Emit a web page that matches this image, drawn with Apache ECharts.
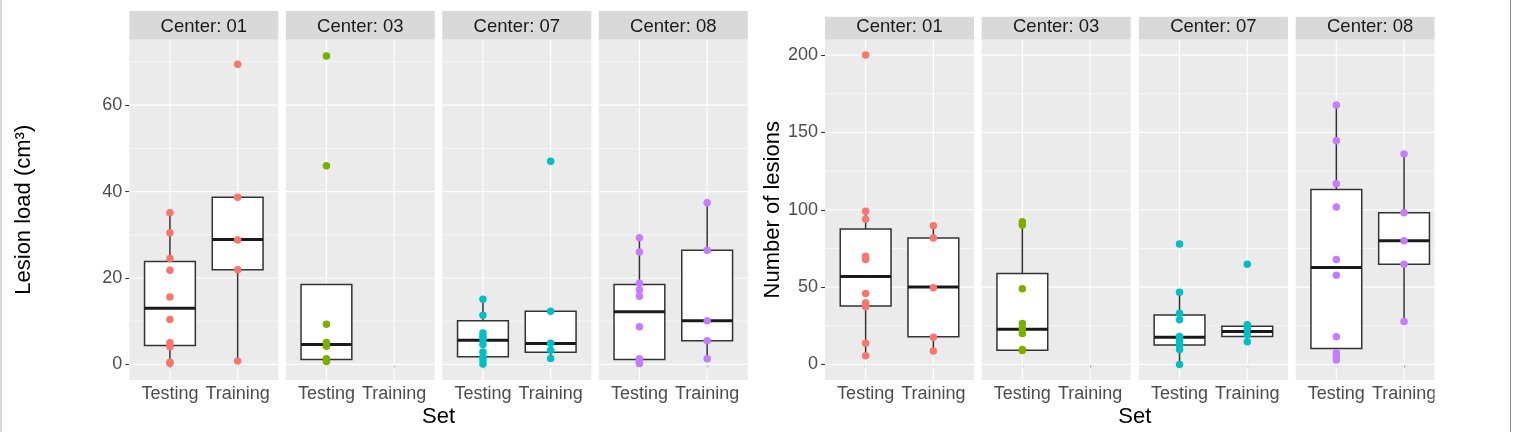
<!DOCTYPE html>
<html><head><meta charset="utf-8">
<script src="https://cdn.jsdelivr.net/npm/echarts@6/dist/echarts.min.js"></script>
<style>html,body{margin:0;padding:0;background:#fff}#c{width:1520px;height:432px}</style>
</head><body><div id="c"></div>
<script>
// ---------- data ----------
const centers = ['01', '03', '07', '08'];
const sets = ['Testing', 'Training'];
const loadTicks = [0, 20, 40, 60];
const loadMinor = [10, 30, 50, 70];
const countTicks = [0, 50, 100, 150, 200];
const countMinor = [25, 75, 125, 175];

// Lesion load (cm3) points: [Testing, Training]
const load01 = [[35.1, 30.5, 24.5, 21.8, 15.6, 10.4, 5.0, 4.1, 0.5, 0.3], [69.5, 38.7, 28.8, 21.9, 0.8]];
const load03 = [[71.4, 46.0, 9.3, 5.1, 4.2, 1.3, 1.0, 0.7], []];
const load07 = [[15.1, 11.4, 7.3, 6.5, 5.8, 4.6, 2.9, 1.8, 1.0, 0.1], [47.0, 12.3, 4.9, 3.3, 1.4]];
const load08 = [[29.3, 26.0, 18.8, 17.3, 15.8, 8.7, 1.3, 1.0, 0.5, 0.2], [37.4, 26.4, 10.1, 5.5, 1.3]];
// box stats: [lower whisker, Q1, median, Q3, upper whisker]
const loadBox01 = [[0.3, 4.4, 13.0, 23.8, 35.1], [0.8, 21.9, 28.9, 38.7, 38.7]];
const loadBox03 = [[0.7, 1.15, 4.6, 18.5, 18.5], null];
const loadBox07 = [[0.1, 1.8, 5.6, 10.1, 15.1], [1.4, 2.8, 4.85, 12.3, 12.3]];
const loadBox08 = [[0.2, 1.15, 12.2, 18.5, 29.3], [1.3, 5.5, 10.1, 26.4, 37.4]];

// Number of lesions points: [Testing, Training]
const count01 = [[200, 99.1, 93.9, 70.0, 67.9, 45.9, 39.8, 37.2, 13.6, 5.6], [89.6, 81.7, 49.5, 17.5, 8.6]];
const count03 = [[92.2, 90.1, 48.9, 26.5, 23.3, 20.0, 9.6, 9.0], []];
const count07 = [[77.8, 46.7, 33.0, 28.8, 18.0, 15.5, 12.5, 9.7, 0.0], [64.7, 25.6, 22.7, 19.2, 14.6]];
const count08 = [[167.7, 144.6, 116.8, 101.7, 67.9, 57.7, 17.8, 7.5, 4.9, 2.8], [136.0, 98.0, 79.9, 64.7, 27.8]];
const countBox01 = [[5.6, 37.7, 56.9, 87.5, 99.1], [8.6, 17.9, 50.0, 81.7, 89.6]];
const countBox03 = [[9.0, 9.2, 22.7, 58.8, 92.2], null];
const countBox07 = [[0.0, 12.6, 17.6, 32.0, 46.7], [14.6, 18.0, 21.2, 24.6, 25.6]];
const countBox08 = [[2.8, 10.3, 62.7, 113.1, 167.7], [27.8, 64.7, 80.0, 98.0, 136.0]];

// ---------- styling / layout ----------
const colors = ['#F8766D', '#7CAE00', '#00BFC4', '#C77CFF'];
const FONT = 'Liberation Sans, Arial, Helvetica, sans-serif';
const panelW = 149, panelTop = 39.5, panelH = 340.5;
const plots = [
  { xs: [129.3, 285.8, 442.3, 598.8], yMin: -3.6, yMax: 75.2, ticks: loadTicks, minor: loadMinor,
    points: [load01, load03, load07, load08], boxes: [loadBox01, loadBox03, loadBox07, loadBox08],
    title: 'Lesion load (cm³)', titleX: 24, stripTop: 11 },
  { xs: [825, 981.7, 1138.9, 1295.7], yMin: -10.1, yMax: 210.1, ticks: countTicks, minor: countMinor,
    points: [count01, count03, count07, count08], boxes: [countBox01, countBox03, countBox07, countBox08],
    title: 'Number of lesions', titleX: 772.5, stripTop: 16.7 }
];

const grids = [], xAxes = [], yAxes = [], series = [], graphics = [];
let gi = 0;
plots.forEach((pl, p) => {
  pl.xs.forEach((left, i) => {
    grids.push({ left: left, top: panelTop, width: panelW, height: panelH, show: true,
      backgroundColor: '#EBEBEB', borderWidth: 0, containLabel: false });
    xAxes.push({ gridIndex: gi, type: 'value', min: 0.4, max: 2.6,
      axisLine: { show: false }, splitLine: { show: false },
      axisTick: { show: true, customValues: [1, 2], length: 4, lineStyle: { color: '#333', width: 1.1 } },
      axisLabel: { customValues: [1, 2], formatter: v => sets[Math.round(v) - 1], color: '#4D4D4D',
        fontSize: 18, fontFamily: FONT, margin: 5 } });
    yAxes.push({ gridIndex: gi, type: 'value', min: pl.yMin, max: pl.yMax,
      axisLine: { show: false }, splitLine: { show: false },
      axisTick: { show: i === 0, customValues: pl.ticks, length: 4, lineStyle: { color: '#333', width: 1.1 } },
      axisLabel: { show: i === 0, customValues: pl.ticks, color: '#4D4D4D', fontSize: 18, fontFamily: FONT, margin: 7 } });

    // grid lines
    const gl = [];
    pl.ticks.forEach(v => gl.push([0, v]));
    pl.minor.forEach(v => gl.push([1, v]));
    [1, 2].forEach(v => gl.push([2, v]));
    series.push({ type: 'custom', xAxisIndex: gi, yAxisIndex: gi, z: 1, silent: true, clip: true,
      data: gl,
      renderItem: (params, api) => {
        const kind = api.value(0), v = api.value(1);
        let a, b;
        if (kind === 2) { a = api.coord([v, pl.yMin]); b = api.coord([v, pl.yMax]); }
        else { a = api.coord([0.4, v]); b = api.coord([2.6, v]); }
        return { type: 'line', shape: { x1: a[0], y1: a[1], x2: b[0], y2: b[1] },
          style: { stroke: '#FFFFFF', lineWidth: kind === 1 ? 0.6 : 1.2 } };
      } });

    // boxes
    const bd = [];
    pl.boxes[i].forEach((b, k) => { if (b) bd.push([k + 1].concat(b)); });
    series.push({ type: 'custom', xAxisIndex: gi, yAxisIndex: gi, z: 2, silent: true,
      data: bd,
      renderItem: (params, api) => {
        const x = api.value(0);
        const pLo = api.coord([x, api.value(1)]), pQ1 = api.coord([x, api.value(2)]);
        const pMed = api.coord([x, api.value(3)]), pQ3 = api.coord([x, api.value(4)]);
        const pHi = api.coord([x, api.value(5)]);
        const hw = api.size([0.75, 0])[0] / 2;
        const st = { stroke: '#333333', lineWidth: 1.5 };
        return { type: 'group', children: [
          { type: 'line', shape: { x1: pLo[0], y1: pLo[1], x2: pQ1[0], y2: pQ1[1] }, style: st },
          { type: 'line', shape: { x1: pQ3[0], y1: pQ3[1], x2: pHi[0], y2: pHi[1] }, style: st },
          { type: 'rect', shape: { x: pQ1[0] - hw, y: pQ3[1], width: 2 * hw, height: pQ1[1] - pQ3[1] },
            style: { fill: '#FFFFFF', stroke: '#333333', lineWidth: 1.5 } },
          { type: 'line', shape: { x1: pMed[0] - hw, y1: pMed[1], x2: pMed[0] + hw, y2: pMed[1] },
            style: { stroke: '#1A1A1A', lineWidth: 3 } }
        ] };
      } });

    // points
    const pd = [];
    pl.points[i].forEach((arr, k) => arr.forEach(v => pd.push([k + 1, v])));
    series.push({ type: 'scatter', xAxisIndex: gi, yAxisIndex: gi, z: 3, silent: true,
      data: pd, symbol: 'circle', symbolSize: 7.5, itemStyle: { color: colors[i], opacity: 1 } });

    // strip
    graphics.push({ type: 'rect', shape: { x: left, y: pl.stripTop, width: panelW, height: panelTop - pl.stripTop },
      style: { fill: '#D9D9D9' }, z: 10 });
    graphics.push({ type: 'text', x: left + panelW / 2, y: 26.8, z: 11,
      style: { text: 'Center: ' + centers[i], fill: '#1A1A1A', font: '18.5px ' + FONT,
        textAlign: 'center', textVerticalAlign: 'middle' } });
    gi++;
  });
  // axis titles
  const cx = (pl.xs[0] + pl.xs[3] + panelW) / 2;
  graphics.push({ type: 'text', x: cx, y: 416.5, z: 11,
    style: { text: 'Set', fill: '#000', font: '22px ' + FONT, textAlign: 'center', textVerticalAlign: 'middle' } });
  graphics.push({ type: 'text', x: pl.titleX, y: panelTop + panelH / 2, rotation: Math.PI / 2, z: 11,
    style: { text: pl.title, fill: '#000', font: '22px ' + FONT, textAlign: 'center', textVerticalAlign: 'middle' } });
});
// cropped right edge & frame
graphics.push({ type: 'rect', shape: { x: 1434.5, y: 0, width: 75, height: 432 }, style: { fill: '#FFFFFF' }, z: 50 });
graphics.push({ type: 'line', shape: { x1: 1510.5, y1: 0, x2: 1510.5, y2: 432 }, style: { stroke: '#8C8C8C', lineWidth: 1 }, z: 51 });
graphics.push({ type: 'line', shape: { x1: 1, y1: 0, x2: 1, y2: 432 }, style: { stroke: '#B0B0B0', lineWidth: 1 }, z: 51 });

const chart = echarts.init(document.getElementById('c'), null, { renderer: 'canvas' });
chart.setOption({
  animation: false,
  backgroundColor: '#FFFFFF',
  grid: grids, xAxis: xAxes, yAxis: yAxes, series: series,
  graphic: { elements: graphics }
});
</script></body></html>
